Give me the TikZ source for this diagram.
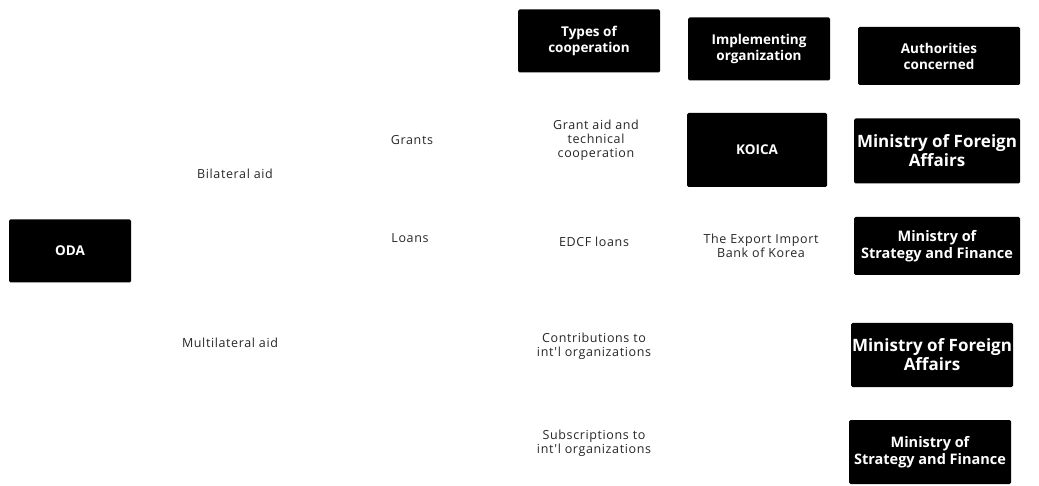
\documentclass[tikz,border=0pt]{standalone}
\usepackage{fontspec}
\setmainfont{Open Sans}
\newfontfamily\lblfont[LetterSpace=5]{Open Sans}
\usetikzlibrary{positioning}

\begin{document}
\begin{tikzpicture}[x=1pt,y=-1pt,
	blk/.style={fill=black, text=white, font=\bfseries\fontsize{13.5}{16}\selectfont, align=center, inner sep=1pt, rounded corners=1.5pt},
	lbl/.style={text=black!85, font=\lblfont\fontsize{12.5}{14}\selectfont, align=center, inner sep=1pt}]
	\useasboundingbox (0,0) rectangle (1039,486);
	
	\node[blk, minimum width=122, minimum height=63] (oda) at (70,251) {ODA};
	
	\node[lbl] (bilat) at (235,174) {Bilateral aid};
	\node[lbl] (multi) at (230,343) {Multilateral aid};
	\node[lbl] (grants) at (412,140) {Grants};
	\node[lbl] (loans) at (410,238) {Loans};
	
	\node[blk, minimum width=142, minimum height=63] (types) at (589,41) {Types of\\cooperation};
	\node[blk, minimum width=142, minimum height=63] (impl) at (759,49) {Implementing\\organization};
	\node[blk, minimum width=162, minimum height=58] (auth) at (939,56) {Authorities\\concerned};
	
	\node[lbl] (grantaid) at (596,140) {Grant aid and\\technical\\cooperation};
	\node[lbl] (edcf) at (594,242) {EDCF loans};
	\node[lbl] (contrib) at (594,346) {Contributions to\\int'l organizations};
	\node[lbl] (subscr) at (594,443) {Subscriptions to\\int'l organizations};
	
	\node[blk, minimum width=140, minimum height=74] (koica) at (757,150) {KOICA};
	\node[lbl] (exim) at (761,246) {The Export Import\\Bank of Korea};
	
	\node[blk, minimum width=166, minimum height=65, font=\bfseries\fontsize{17}{19}\selectfont] (mofa) at (937,151) {Ministry of Foreign\\Affairs};
	\node[blk, minimum width=166, minimum height=58, font=\bfseries\fontsize{14.5}{17}\selectfont] (mosf) at (937,246) {Ministry of\\Strategy and Finance};
	\node[blk, minimum width=160, minimum height=64, font=\bfseries\fontsize{17}{19}\selectfont] (mofab) at (932,355) {Ministry of Foreign\\Affairs};
	\node[blk, minimum width=162, minimum height=64, font=\bfseries\fontsize{14.5}{17}\selectfont] (mosfb) at (930,452) {Ministry of\\Strategy and Finance};
\end{tikzpicture}
\end{document}
